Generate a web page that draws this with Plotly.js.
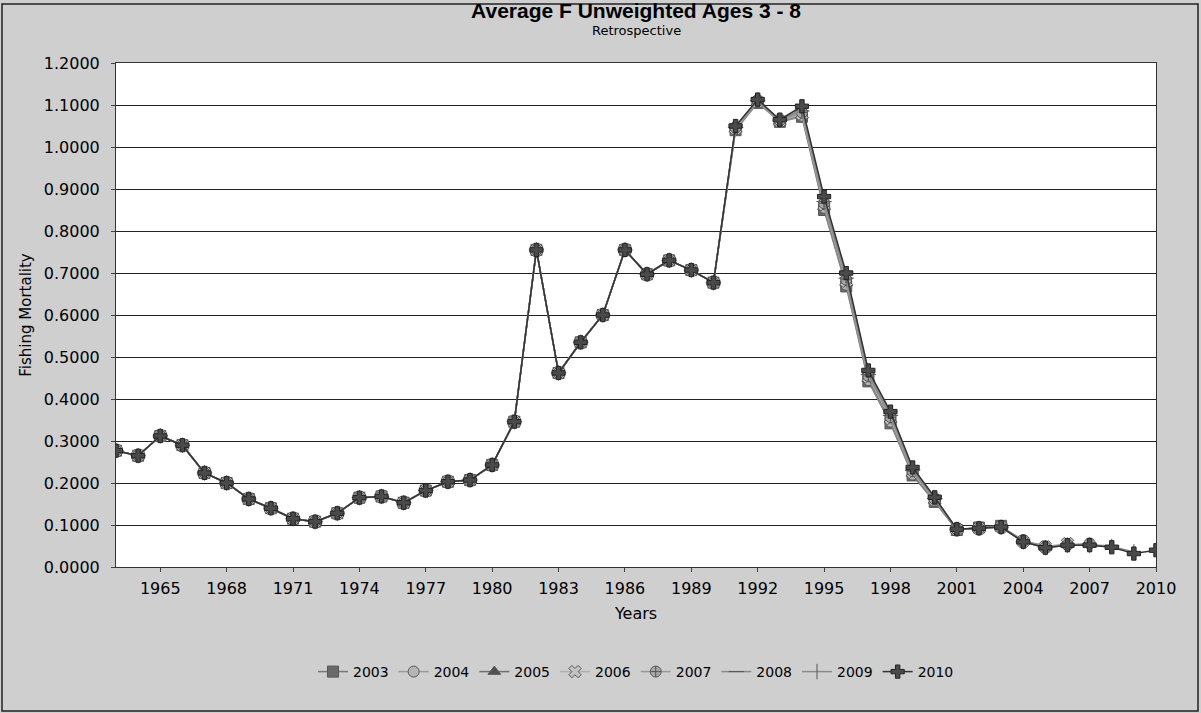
<!DOCTYPE html>
<html>
<head>
<meta charset="utf-8">
<script src="https://cdn.plot.ly/plotly-3.0.1.min.js"></script>
<style>
  html, body { margin: 0; padding: 0; background: #cfcfcf; }
  #chart { width: 1201px; height: 713px; }
</style>
</head>
<body>
<div id="chart"></div>
<script>
// years on the x axis
let years = [];
for (let y = 1963; y <= 2010; y++) years.push(y);

// 1963-1990: all retrospective runs sit on top of each other
let common = [0.277, 0.265, 0.312, 0.290, 0.224, 0.200, 0.162, 0.140, 0.115, 0.108,
  0.128, 0.165, 0.168, 0.153, 0.182, 0.203, 0.207, 0.243, 0.346, 0.755,
  0.462, 0.535, 0.600, 0.755, 0.697, 0.730, 0.707, 0.677];

// 1991 onward, one tail per terminal year
let tail2003 = [1.040, 1.105, 1.060, 1.072, 0.850, 0.668, 0.442, 0.342, 0.218, 0.155, 0.088, 0.094, 0.098];
let tail2004 = [1.042, 1.107, 1.060, 1.074, 0.855, 0.672, 0.445, 0.346, 0.220, 0.157, 0.089, 0.093, 0.096, 0.064];
let tail2005 = [1.043, 1.108, 1.061, 1.076, 0.858, 0.676, 0.448, 0.350, 0.222, 0.158, 0.089, 0.092, 0.095, 0.062, 0.050];
let tail2006 = [1.044, 1.108, 1.062, 1.078, 0.862, 0.680, 0.452, 0.353, 0.225, 0.160, 0.090, 0.092, 0.095, 0.061, 0.048, 0.056];
let tail2007 = [1.046, 1.110, 1.063, 1.082, 0.866, 0.684, 0.455, 0.357, 0.228, 0.161, 0.090, 0.092, 0.095, 0.061, 0.047, 0.053, 0.056];
let tail2008 = [1.047, 1.110, 1.064, 1.086, 0.870, 0.688, 0.458, 0.361, 0.230, 0.163, 0.090, 0.092, 0.095, 0.060, 0.047, 0.052, 0.053, 0.050];
let tail2009 = [1.048, 1.111, 1.064, 1.090, 0.875, 0.694, 0.462, 0.365, 0.233, 0.164, 0.090, 0.092, 0.095, 0.060, 0.046, 0.052, 0.052, 0.049, 0.036];
let tail2010 = [1.050, 1.113, 1.065, 1.097, 0.882, 0.700, 0.468, 0.370, 0.237, 0.166, 0.090, 0.092, 0.095, 0.060, 0.046, 0.052, 0.052, 0.047, 0.032, 0.040];

let runNames = ["2003", "2004", "2005", "2006", "2007", "2008", "2009", "2010"];
let tails = [tail2003, tail2004, tail2005, tail2006, tail2007, tail2008, tail2009, tail2010];

// grayscale look of each run
let symbols = ["square", "circle", "triangle-up", "x", "circle-cross", "line-ew", "line-ns", "cross"];
let fills = ["#6a6a6a", "#b4b4b4", "#505050", "#c4c4c4", "#a8a8a8", "#777777", "#8c8c8c", "#4a4a4a"];
let lineColors = ["#777777", "#9a9a9a", "#6e6e6e", "#b0b0b0", "#9a9a9a", "#8a8a8a", "#8a8a8a", "#333333"];

let font = "DejaVu Sans, Verdana, sans-serif";

let traces = runNames.map((name, i) => {
  let y = common.concat(tails[i]);
  return {
    x: years.slice(0, y.length),
    y: y,
    name: name,
    type: "scatter",
    mode: "lines+markers",
    line: { color: lineColors[i], width: 1.5 },
    marker: {
      symbol: symbols[i],
      size: 11,
      color: fills[i],
      line: { color: i === 7 ? "#222222" : "#555555", width: 1 }
    }
  };
});

let layout = {
  width: 1201,
  height: 713,
  paper_bgcolor: "#cfcfcf",
  plot_bgcolor: "#ffffff",
  margin: { l: 116, r: 45, t: 63, b: 146 },
  font: { family: font, size: 16, color: "#000000" },
  title: {
    text: "<b>Average F Unweighted Ages 3 - 8</b>",
    font: { family: "Liberation Sans, Arial, sans-serif", size: 21, color: "#000000" },
    xref: "paper", x: 0.5, xanchor: "center",
    yref: "container", y: 1 - 11 / 713, yanchor: "middle"
  },
  xaxis: {
    range: [1963, 2010],
    tick0: 1965, dtick: 3,
    showgrid: false,
    zeroline: false,
    showline: true, mirror: true, linecolor: "#333333", linewidth: 1,
    ticks: "outside", ticklen: 4, tickcolor: "#444444",
    ticklabelstandoff: 3,
    tickfont: { family: font, size: 16 },
    title: { text: "Years", font: { family: font, size: 16 }, standoff: 10 }
  },
  yaxis: {
    range: [0, 1.2],
    dtick: 0.1,
    tickformat: ".4f",
    showgrid: true, gridcolor: "#222222", gridwidth: 1,
    zeroline: false,
    showline: true, mirror: true, linecolor: "#333333", linewidth: 1,
    ticks: "outside", ticklen: 4, tickcolor: "#444444",
    ticklabelstandoff: 8,
    tickfont: { family: font, size: 16 },
    title: { text: "Fishing Mortality", font: { family: font, size: 15 }, standoff: 8 }
  },
  legend: {
    orientation: "h",
    x: 0.5, xanchor: "center",
    y: (567 - 672) / 504, yanchor: "middle",
    bgcolor: "rgba(0,0,0,0)",
    font: { family: font, size: 14 }
  },
  annotations: [{
    text: "Retrospective",
    xref: "paper", yref: "paper",
    x: 0.5, y: (567 - 30) / 504,
    xanchor: "center", yanchor: "middle",
    showarrow: false,
    font: { family: font, size: 13 }
  }],
  shapes: [{
    type: "rect",
    xref: "paper", yref: "paper",
    x0: (2 - 116) / 1040, x1: (1198 - 116) / 1040,
    y0: (567 - 711) / 504, y1: (567 - 4) / 504,
    line: { color: "#222222", width: 1.5 },
    fillcolor: "rgba(0,0,0,0)",
    layer: "below"
  }],
  showlegend: true
};

Plotly.newPlot("chart", traces, layout, { displayModeBar: false, staticPlot: true });
</script>
</body>
</html>
